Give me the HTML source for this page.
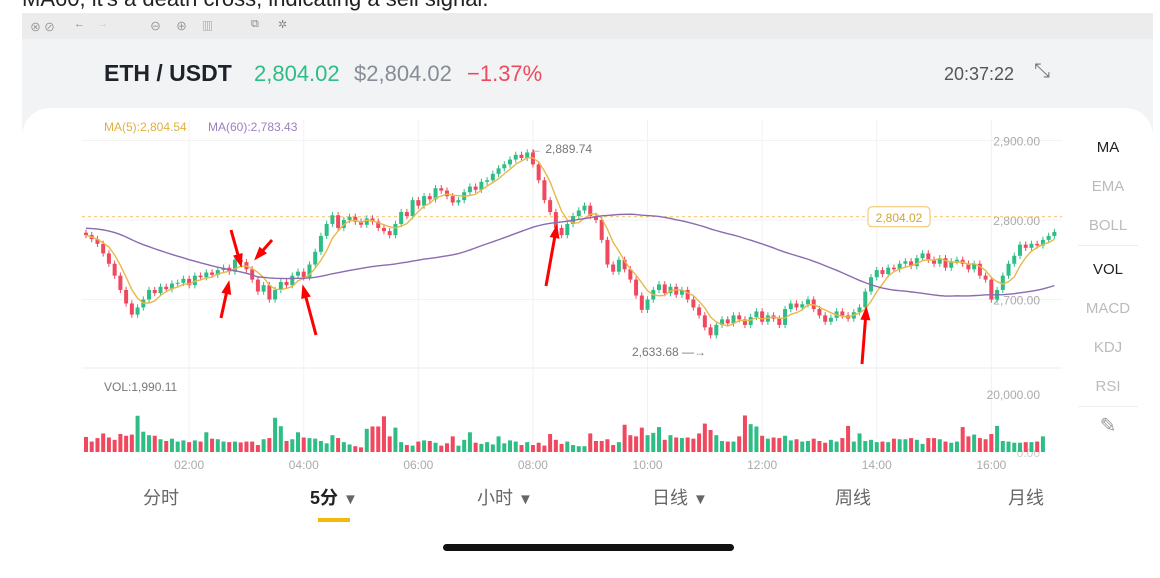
<!DOCTYPE html>
<html><head><meta charset="utf-8">
<style>
body{margin:0;width:1160px;height:578px;background:#fff;position:relative;overflow:hidden;font-family:"Liberation Sans","Noto Sans CJK SC",sans-serif}
.abs{position:absolute}
</style></head><body>
<div class="abs" style="left:22px;top:-14px;font-size:22px;color:#222;white-space:nowrap">MA60, it's a death cross, indicating a sell signal.</div>
<div class="abs" style="left:22px;top:13px;width:1131px;height:26px;background:#ececec;color:#888;font-size:11px">
 <span class="abs" style="left:8px;top:6px">⊗ ⊘</span>
 <span class="abs" style="left:52px;top:5px">←</span><span class="abs" style="left:75px;top:5px;color:#ccc">→</span>
 <span class="abs" style="left:128px;top:5px">⊖</span><span class="abs" style="left:154px;top:5px">⊕</span><span class="abs" style="left:180px;top:5px">▥</span>
 <span class="abs" style="left:229px;top:5px">⧉</span><span class="abs" style="left:256px;top:5px">✲</span>
</div>
<div class="abs" style="left:22px;top:39px;width:1131px;height:440px;background:#f2f3f5"></div>
<div class="abs" style="left:104px;top:60px;font-size:23px;font-weight:bold;color:#1e2329">ETH / USDT</div>
<div class="abs" style="left:254px;top:61px;font-size:22px;color:#2ebd85">2,804.02</div>
<div class="abs" style="left:354px;top:61px;font-size:22px;color:#868d96">$2,804.02</div>
<div class="abs" style="left:467px;top:61px;font-size:22px;color:#f0485e">−1.37%</div>
<div class="abs" style="left:944px;top:64px;font-size:18px;color:#555">20:37:22</div>
<div class="abs" style="left:1034px;top:60px;font-size:20px;color:#777">⤡</div>
<div class="abs" style="left:22px;top:108px;width:1131px;height:371px;background:#fff;border-radius:28px 28px 0 0"></div>
<div class="abs" style="left:1078px;top:128px;width:60px;font-size:15px;text-align:center;color:#bbb;line-height:39px">
 <div style="color:#222">MA</div>
 <div>EMA</div>
 <div style="border-bottom:1px solid #eee">BOLL</div>
 <div style="color:#222;padding-top:4px">VOL</div>
 <div>MACD</div>
 <div>KDJ</div>
 <div style="border-bottom:1px solid #eee">RSI</div>
 <div style="font-size:20px;color:#999">✎</div>
</div>
<svg class="abs" style="left:0;top:0" width="1160" height="578" id="chart"></svg>
<div class="abs" style="left:0;top:484px;width:1160px;font-size:18px;color:#666">
 <span class="abs" style="left:143px">分时</span>
 <span class="abs" style="left:310px;color:#222;font-weight:bold">5分 <small style="color:#666">▼</small></span>
 <span class="abs" style="left:477px">小时 <small>▼</small></span>
 <span class="abs" style="left:652px">日线 <small>▼</small></span>
 <span class="abs" style="left:835px">周线</span>
 <span class="abs" style="left:1008px">月线</span>
</div>
<div class="abs" style="left:318px;top:518px;width:32px;height:4px;background:#f0b90b"></div>
<div class="abs" style="left:443px;top:544px;width:291px;height:7px;border-radius:4px;background:#111"></div>
<script>
const closes=[2781,2776,2770,2758,2745,2730,2712,2695,2681,2690,2700,2712,2708,2716,2713,2720,2721,2726,2718,2730,2728,2734,2731,2737,2740,2735,2750,2747,2738,2725,2710,2718,2700,2712,2722,2718,2730,2735,2728,2744,2760,2780,2795,2806,2790,2800,2804,2798,2794,2802,2798,2790,2786,2781,2795,2810,2805,2825,2818,2830,2826,2840,2837,2830,2822,2825,2835,2842,2838,2848,2850,2858,2865,2870,2876,2882,2878,2885,2870,2850,2825,2810,2790,2781,2795,2805,2812,2818,2805,2800,2775,2744,2735,2750,2738,2725,2705,2687,2700,2712,2719,2708,2716,2706,2712,2700,2690,2680,2665,2655,2668,2675,2670,2680,2675,2668,2678,2685,2672,2680,2676,2668,2688,2695,2690,2694,2700,2688,2680,2672,2677,2685,2680,2676,2684,2690,2710,2728,2737,2732,2740,2738,2745,2748,2742,2752,2758,2750,2745,2752,2740,2748,2750,2745,2738,2745,2730,2725,2700,2712,2730,2745,2755,2769,2765,2770,2768,2775,2780,2785];
const volumes=[5200,3600,4800,6400,5000,4200,6200,5600,6000,12500,7000,5800,5600,4400,3800,4600,3600,4000,3400,4000,3600,6800,4600,4400,3600,3400,3600,3300,3600,3600,2400,4400,4800,11800,8900,3800,4400,6800,5000,4800,4600,3800,3000,5800,4800,3400,2600,2000,1600,8000,8800,8800,12300,5400,8400,3400,2400,2200,3600,4000,3800,3200,2200,3000,5400,2200,4200,6800,3200,2800,3400,2600,5400,3000,4000,3600,2400,3400,2400,3200,2200,6200,4200,2800,3600,2400,2000,2000,6400,3800,3800,4400,2400,3400,9400,5800,5400,8400,5800,6600,8600,4200,5800,5000,4800,5000,4600,6400,9800,7600,5800,3800,3600,3600,5400,12600,9600,8800,5600,4600,5000,4800,5600,4000,4400,3600,3800,4600,3800,3200,4200,3600,4800,9000,3600,6400,3800,4200,3400,3600,3400,4600,4400,4400,4800,4200,2800,4800,4800,4400,3600,3200,3600,8600,5400,6000,4800,4400,6200,9000,3800,3600,3200,3200,3400,3400,3600,5400];
const yTicks=[2900,2800,2700];
const timeLabels=["02:00","04:00","06:00","08:00","10:00","12:00","14:00","16:00"];
const timeIdx=[18,38,58,78,98,118,138,158];
const svg=document.getElementById('chart');
const NS='http://www.w3.org/2000/svg';
const X0=86,STEP=5.73;
const x=i=>X0+i*STEP;
const y=p=>220-(p-2800)*0.795;
const vy=v=>452-v*58/20000;
function mk(t,a){const e=document.createElementNS(NS,t);for(const k in a)e.setAttribute(k,a[k]);svg.appendChild(e);return e;}
timeIdx.forEach((ti,k)=>{const g=mk('line',{x1:x(ti),x2:x(ti),y1:120,y2:455,stroke:'#f2f2f2'});


const t=mk('text',{x:x(ti),y:469,'font-size':12,fill:'#aaa','text-anchor':'middle','font-family':'Liberation Sans'});t.textContent=timeLabels[k];

});
yTicks.forEach(v=>{const g=mk('line',{x1:82,x2:1062,y1:y(v),y2:y(v),stroke:'#f2f2f2'});


const t=mk('text',{x:1040,y:y(v)+5,'font-size':12,fill:'#aaa','text-anchor':'end','font-family':'Liberation Sans'});t.textContent=v.toLocaleString('en-US',{minimumFractionDigits:2});

});
mk('line',{x1:82,x2:1062,y1:368,y2:368,stroke:'#eee'});
let t=mk('text',{x:1040,y:399,'font-size':12,fill:'#aaa','text-anchor':'end','font-family':'Liberation Sans'});t.textContent='20,000.00';


t=mk('text',{x:1040,y:457,'font-size':12,fill:'#ccc','text-anchor':'end','font-family':'Liberation Sans'});t.textContent='0.00';


const lp=mk('line',{x1:82,x2:1062,y1:y(2804.02),y2:y(2804.02),stroke:'#f0c060','stroke-dasharray':'3,3'});


const lb=mk('rect',{x:868,y:y(2804.02)-10,width:62,height:20,rx:4,fill:'#fff',stroke:'#f0c060'});


t=mk('text',{x:899,y:y(2804.02)+5,'font-size':12,fill:'#d4a530','text-anchor':'middle','font-family':'Liberation Sans'});t.textContent='2,804.02';


const G='#2ebd85',R='#f0485e';
closes.forEach((c,i)=>{const o=i?closes[i-1]:c+3;const up=c>=o;const col=up?G:R;
const hi=Math.max(o,c)+4,lo=Math.min(o,c)-4;
const w=mk('line',{x1:x(i),x2:x(i),y1:y(hi),y2:y(lo),stroke:col,'stroke-width':1});


const b=mk('rect',{x:x(i)-2,y:y(Math.max(o,c)),width:4,height:Math.max(1,Math.abs(y(o)-y(c))),fill:col});


const v=mk('rect',{x:x(i)-2,y:vy(volumes[i]),width:4,height:452-vy(volumes[i]),fill:col});

});
function ma(n){return closes.map((_,i)=>{const s=Math.max(0,i-n+1);let a=0;for(let j=s;j<=i;j++)a+=closes[j];return a/(i-s+1);});}
function line(arr,col,name){const p=mk('polyline',{points:arr.map((v,i)=>x(i)+','+y(v)).join(' '),fill:'none',stroke:col,'stroke-width':1.4});

}
const ma60=ma(60).map((v,i)=>i<30?(v*(i+1)+2790*(30-i))/31:v);
line(ma(5),'#e8b84a','ma5-line');
line(ma60,'#8a6bb0','ma60-line');
t=mk('text',{x:104,y:131,'font-size':12,fill:'#e0b040','font-family':'Liberation Sans'});t.textContent='MA(5):2,804.54';


t=mk('text',{x:208,y:131,'font-size':12,fill:'#9a80c0','font-family':'Liberation Sans'});t.textContent='MA(60):2,783.43';


t=mk('text',{x:104,y:391,'font-size':12,fill:'#777','font-family':'Liberation Sans'});t.textContent='VOL:1,990.11';


t=mk('text',{x:530,y:153,'font-size':12,fill:'#777','font-family':'Liberation Sans'});t.textContent='←  2,889.74';


t=mk('text',{x:632,y:356,'font-size':12,fill:'#777','font-family':'Liberation Sans'});t.textContent='2,633.68 —→';


[[316,335,304,290],[221,318,228,286],[231,230,240,262],[272,240,258,256],[546,286,556,230],[862,364,866,312]].forEach(a=>{
const l=mk('line',{x1:a[0],y1:a[1],x2:a[2],y2:a[3],stroke:'#f00','stroke-width':3});


const dx=a[2]-a[0],dy=a[3]-a[1],L=Math.hypot(dx,dy),ux=dx/L,uy=dy/L;
const h=mk('polygon',{points:`${a[2]+ux*6},${a[3]+uy*6} ${a[2]-ux*8-uy*5},${a[3]-uy*8+ux*5} ${a[2]-ux*8+uy*5},${a[3]-uy*8-ux*5}`,fill:'#f00'});

});
</script>
</body></html>
